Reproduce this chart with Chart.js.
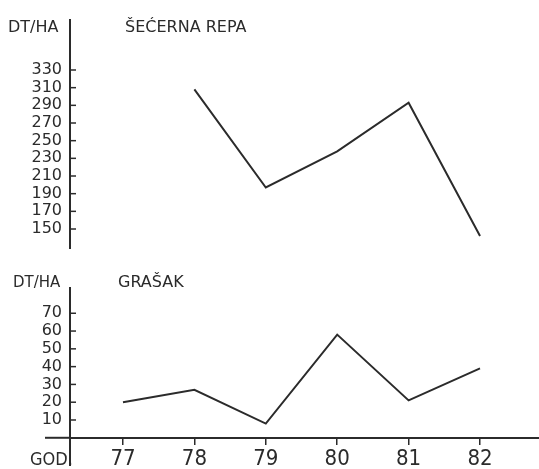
<!DOCTYPE html>
<html>
<head>
<meta charset="utf-8">
<title>Šećerna repa i grašak</title>
<script src="https://cdn.jsdelivr.net/npm/chart.js@4.4.1/dist/chart.umd.min.js"></script>
<style>
  html, body { margin: 0; padding: 0; background: #fff; }
  #wrap { position: relative; width: 539px; height: 469px; overflow: hidden; }
  .box { position: absolute; left: 0; width: 539px; }
</style>
</head>
<body>
<div id="wrap">
  <div class="box" style="top:0;height:250px"><canvas id="repa"></canvas></div>
  <div class="box" style="top:250px;height:219px"><canvas id="grasak"></canvas></div>
</div>
<script>
// godine (x) i prinosi u dt/ha
const years = [77, 78, 79, 80, 81, 82];
const repaValues = [null, 308, 197, 238, 293, 142];
const grasakValues = [20, 27, 8, 58, 21, 39];
const repaTicks = [150, 170, 190, 210, 230, 250, 270, 290, 310, 330];
const grasakTicks = [10, 20, 30, 40, 50, 60, 70];

const ink = "#2b2b2b";
const sans = "'DejaVu Sans', sans-serif";
const narrow = "'Liberation Sans Narrow', 'DejaVu Sans Condensed', sans-serif";

function points(values) {
  return years.map((y, i) => ({ x: y, y: values[i] }));
}

// small tick marks pointing into the plot, plus free text
const decor = {
  id: "decor",
  afterDraw(chart, args, opts) {
    const ctx = chart.ctx;
    const y = chart.scales.y;
    ctx.save();
    ctx.strokeStyle = ink;
    ctx.lineWidth = 1.5;
    y.ticks.forEach(t => {
      const py = y.getPixelForValue(t.value);
      ctx.beginPath();
      ctx.moveTo(y.right, py);
      ctx.lineTo(y.right + 6, py);
      ctx.stroke();
    });
    if (opts.extendX) {
      const py = y.getPixelForValue(0);
      ctx.lineWidth = 2;
      ctx.beginPath();
      ctx.moveTo(chart.chartArea.left - opts.extendX, py);
      ctx.lineTo(chart.chartArea.left, py);
      ctx.stroke();
    }
    ctx.fillStyle = ink;
    ctx.textBaseline = "alphabetic";
    (opts.texts || []).forEach(t => {
      ctx.font = t.font;
      ctx.fillText(t.text, t.x, t.y);
    });
    ctx.restore();
  }
};

function makeChart(id, values, yTicks, yMin, yMax, padding, showX, decorOpts) {
  return new Chart(document.getElementById(id), {
    type: "line",
    data: {
      datasets: [
        {
          data: points(values),
          borderColor: ink,
          borderWidth: 2,
          pointRadius: 0,
          tension: 0,
        },
      ],
    },
    options: {
      responsive: true,
      maintainAspectRatio: false,
      animation: false,
      layout: { padding: padding },
      plugins: {
        legend: { display: false },
        tooltip: { enabled: false },
        decor: decorOpts
      },
      scales: {
        x: {
          type: "linear",
          display: showX,
          min: 76.258,
          max: 82.826,
          position: { y: 0 },
          afterBuildTicks: (s) => { s.ticks = years.map(v => ({ value: v })); },
          afterFit: (s) => { s.paddingLeft = 0; s.paddingRight = 0; },
          grid: {
            drawOnChartArea: false,
            drawTicks: true,
            tickLength: 6,
            color: ink,
            lineWidth: 1.5
          },
          border: { color: ink, width: 2 },
          ticks: {
            autoSkip: false,
            maxRotation: 0,
            padding: 2,
            color: ink,
            font: { family: narrow, size: 22 }
          }
        },
        y: {
          position: "left",
          min: yMin,
          max: yMax,
          afterBuildTicks: (s) => { s.ticks = yTicks.map(v => ({ value: v })); },
          afterFit: (s) => { s.width = 70; s.paddingTop = 0; s.paddingBottom = 0; },
          grid: { drawOnChartArea: false, drawTicks: false },
          border: { color: ink, width: 2 },
          ticks: {
            autoSkip: false,
            padding: 8,
            color: ink,
            font: { family: sans, size: 16 }
          }
        }
      }
    },
    plugins: [decor]
  });
}

makeChart("repa", repaValues, repaTicks, 128.5, 386.6,
  { top: 20, bottom: 2, left: 0, right: 0 }, false,
  {
    texts: [
      { text: "DT/HA", x: 8, y: 32, font: "16px " + sans },
      { text: "ŠEĆERNA REPA", x: 125, y: 32, font: "16px " + sans }
    ]
  });

makeChart("grasak", grasakValues, grasakTicks, -15.3, 84.2,
  { top: 38, bottom: 4, left: 0, right: 0 }, true,
  {
    extendX: 25,
    texts: [
      { text: "DT/HA", x: 13, y: 37, font: "15px " + sans },
      { text: "GRAŠAK", x: 118, y: 37, font: "16px " + sans },
      { text: "GOD.", x: 30, y: 215, font: "18px " + narrow }
    ]
  });
</script>
</body>
</html>
